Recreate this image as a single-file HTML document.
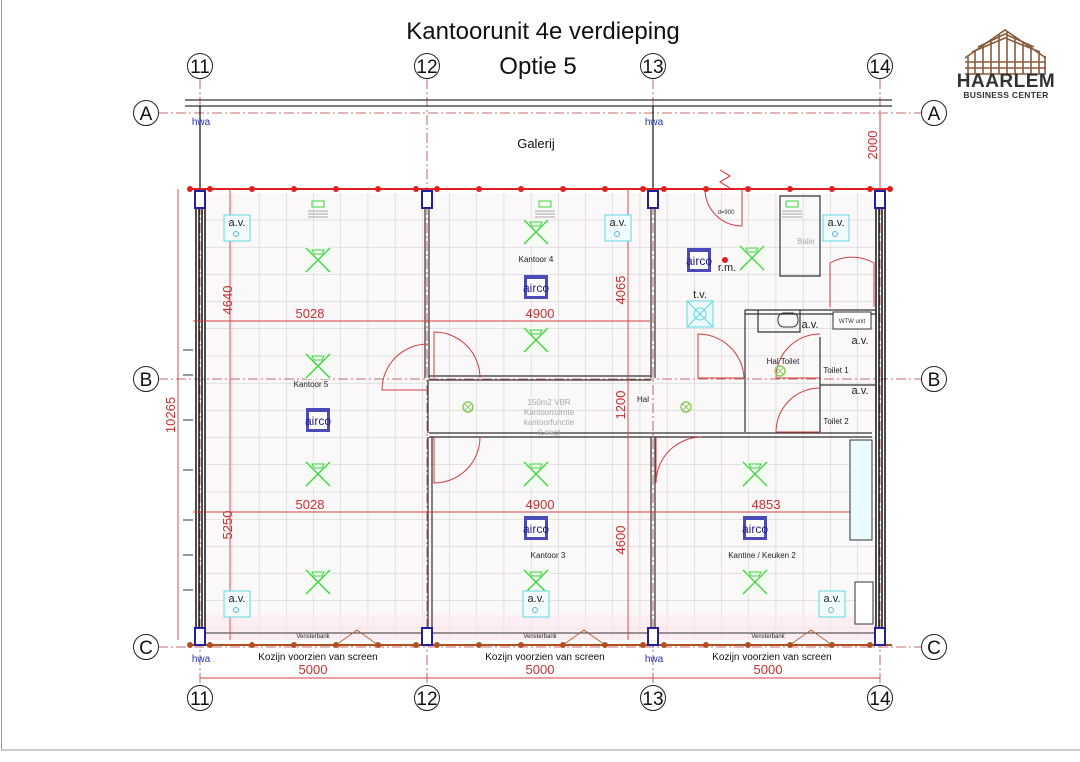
<!DOCTYPE html>
<html><head><meta charset="utf-8"><style>
html,body{margin:0;padding:0;background:#fff}
svg{display:block}
text{font-family:"Liberation Sans",sans-serif}
</style></head><body>
<svg width="1080" height="762" viewBox="0 0 1080 762" xmlns="http://www.w3.org/2000/svg">
<defs>
<pattern id="grid" x="205" y="193" width="27.2" height="27.2" patternUnits="userSpaceOnUse">
<path d="M27.2 0V27.2H0" fill="none" stroke="#c8c8c8" stroke-width="1"/>
</pattern>
<g id="lamp"><rect x="-13" y="-13" width="26" height="26" fill="#f3fbf3" stroke="none"/><path d="M-12 -12L12 12M12 -12L-12 12" stroke="#3ad43a" stroke-width="1.3"/><path d="M-6 -10h12l-2 4h-8z" fill="none" stroke="#3ad43a"/></g>
<g id="airco"><rect x="-12" y="-12" width="24" height="24" fill="#4a4ab8"/><rect x="-9" y="-8" width="18" height="17" fill="#fff"/><text x="0" y="5" font-size="12" text-anchor="middle" fill="#202080">airco</text></g>
<g id="av"><rect x="-13" y="-13" width="26" height="26" fill="#f2fbfd" stroke="#5fd8e0"/><text x="0" y="-2" font-size="11" text-anchor="middle" fill="#222">a.v.</text><circle cx="-1" cy="6" r="2.5" fill="none" stroke="#5fb0e0"/></g>
<g id="bub"><circle r="12.5" fill="#fff" stroke="#222" stroke-width="1"/></g>
<g id="dot"><circle r="3" fill="#e02020"/></g>
<g id="bdot"><circle r="3" fill="#b05020"/></g>
<g id="sign"><path d="M-6 -4h12v6h-12z" fill="none" stroke="#3ad43a"/><path d="M-10 6h20M-10 9h20M-10 12h20" stroke="#555" stroke-width="0.6"/></g>
<g id="gc"><circle r="5" fill="none" stroke="#8ccc60" stroke-width="1.5"/><path d="M-3 -3L3 3M3 -3L-3 3" stroke="#8ccc60"/></g>
</defs>

<path d="M1.5 0V750H1080" fill="none" stroke="#999"/>

<text x="543" y="39" font-size="24" text-anchor="middle" fill="#111">Kantoorunit 4e verdieping</text>
<text x="538" y="74" font-size="24" text-anchor="middle" fill="#111">Optie 5</text>

<g stroke="#8a5a3c" stroke-width="1.6" fill="none">
<path d="M965 58L1005 30L1046 58"/>
<path d="M968 55V74M975 50V74M983 44V74M991 39V74M999 34V74M1007 32V74M1015 36V74M1023 41V74M1031 46V74M1039 51V74M1045 56V74"/>
<path d="M965 62H1046M965 68H1046M965 74H1046M972 52L1005 38L1040 52M978 47L1005 34L1034 47"/>
</g>
<text x="1006" y="87" font-size="19" font-weight="bold" text-anchor="middle" fill="#333" letter-spacing="0.5">HAARLEM</text>
<text x="1006" y="98" font-size="8.5" font-weight="bold" text-anchor="middle" fill="#333" letter-spacing="0.3">BUSINESS CENTER</text>

<rect x="205" y="193" width="671" height="447" fill="#fbf8f9"/>
<rect x="205" y="193" width="671" height="447" fill="url(#grid)"/>
<rect x="205" y="615" width="671" height="25" fill="#fde8ee" opacity="0.6"/>

<g stroke="#b04040" stroke-width="0.8" stroke-dasharray="10 3 2 3" fill="none">
<path d="M158 113H922M158 379H922M158 647H922"/>
<path d="M200 79V685M427 79V685M653 79V685M880 79V685"/>
</g>

<path d="M185 100H892M185 106H892" stroke="#333" stroke-width="1.3"/>
<path d="M200 106V189M653 106V189" stroke="#111" stroke-width="1.2"/>
<text x="536" y="148" font-size="13" text-anchor="middle" fill="#111">Galerij</text>
<text x="201" y="125" font-size="10" text-anchor="middle" fill="#2030c0">hwa</text>
<text x="654" y="125" font-size="10" text-anchor="middle" fill="#2030c0">hwa</text>

<path d="M188 189H892" stroke="#e02020" stroke-width="2"/>
<g fill="none" stroke="#111" stroke-width="1.5">
<path d="M196 192V640M199 192V640M202 192V640M205 192V640"/>
<path d="M876 192V640M879 192V640M882 192V640M885 192V640"/>
</g>
<path d="M188 645H892" stroke="#b05020" stroke-width="2"/>
<path d="M205 633H876" stroke="#333" stroke-width="1"/>

<g fill="#fff" stroke="#2020a0" stroke-width="2">
<rect x="195" y="191" width="10" height="17"/><rect x="422" y="191" width="10" height="17"/><rect x="648" y="191" width="10" height="17"/><rect x="875" y="191" width="10" height="17"/>
<rect x="195" y="628" width="10" height="17"/><rect x="422" y="628" width="10" height="17"/><rect x="648" y="628" width="10" height="17"/><rect x="875" y="628" width="10" height="17"/>
</g>

<g>
<use href="#dot" x="190" y="189"/><use href="#dot" x="210" y="189"/><use href="#dot" x="252" y="189"/><use href="#dot" x="294" y="189"/><use href="#dot" x="336" y="189"/><use href="#dot" x="378" y="189"/><use href="#dot" x="416" y="189"/><use href="#dot" x="437" y="189"/><use href="#dot" x="479" y="189"/><use href="#dot" x="521" y="189"/><use href="#dot" x="563" y="189"/><use href="#dot" x="605" y="189"/><use href="#dot" x="643" y="189"/><use href="#dot" x="664" y="189"/><use href="#dot" x="706" y="189"/><use href="#dot" x="748" y="189"/><use href="#dot" x="790" y="189"/><use href="#dot" x="832" y="189"/><use href="#dot" x="870" y="189"/><use href="#dot" x="890" y="189"/>
</g>
<g>
<use href="#bdot" x="190" y="645"/><use href="#bdot" x="210" y="645"/><use href="#bdot" x="252" y="645"/><use href="#bdot" x="294" y="645"/><use href="#bdot" x="336" y="645"/><use href="#bdot" x="378" y="645"/><use href="#bdot" x="416" y="645"/><use href="#bdot" x="437" y="645"/><use href="#bdot" x="479" y="645"/><use href="#bdot" x="521" y="645"/><use href="#bdot" x="563" y="645"/><use href="#bdot" x="605" y="645"/><use href="#bdot" x="643" y="645"/><use href="#bdot" x="664" y="645"/><use href="#bdot" x="706" y="645"/><use href="#bdot" x="748" y="645"/><use href="#bdot" x="790" y="645"/><use href="#bdot" x="832" y="645"/><use href="#bdot" x="870" y="645"/>
</g>
<path d="M336 645L357 630L378 645M563 645L584 630L605 645M790 645L811 630L832 645" fill="none" stroke="#b05020" stroke-width="0.8"/>

<g fill="none" stroke="#333" stroke-width="1.2">
<path d="M425 208V378M429 208V378"/>
<path d="M651 208V378M655 208V378"/>
<path d="M429 376H651M429 380H651"/>
<path d="M429 433H872M429 437H872"/>
<path d="M428 437V628M432 437V628"/>
<path d="M651 437V628M655 437V628"/>
<path d="M428 380V433"/>
<path d="M745 310H876M745 310V432M820 337V432M820 385H876M745 314H876"/>
<path d="M780 196H820V276H780Z"/>
<path d="M758 310V332H800V310"/>
</g>

<g fill="none" stroke="#d04040" stroke-width="1">
<path d="M434 378V332A46 46 0 0 1 480 378"/>
<path d="M428 390H382A46 46 0 0 1 428 344"/>
<path d="M434 437V483A46 46 0 0 0 480 437"/>
<path d="M656 437V483A46 46 0 0 1 702 437"/>
<path d="M744 378H698V334A46 46 0 0 1 744 378"/>
<path d="M820 378H776A44 44 0 0 1 820 334"/>
<path d="M820 432H776A44 44 0 0 1 820 388"/>
<path d="M830 307V263A44 44 0 0 1 874 263V307"/>
<path d="M705 189A37 37 0 0 0 742 226V189"/>
</g>
<path d="M720 170L730 176L720 182L730 188" stroke="#e02020" fill="none"/>
<text x="726" y="214" font-size="6" text-anchor="middle" fill="#333">d=900</text>
<text x="806" y="244" font-size="8" text-anchor="middle" fill="#aaa">Balie</text>
<rect x="778" y="313" width="20" height="14" rx="6" fill="none" stroke="#333"/>
<rect x="833" y="312" width="38" height="17" fill="#fff" stroke="#333"/>
<text x="852" y="323" font-size="6" text-anchor="middle" fill="#333">WTW unit</text>

<g stroke="#d04040" stroke-width="0.9" fill="none">
<path d="M193 321H650M193 512H870"/>
<path d="M230 189V640M628 189V640M178 189V640M880 113V189"/>
<path d="M200 678H880"/>
</g>
<g fill="#c83030" font-size="13">
<text x="310" y="318" text-anchor="middle">5028</text>
<text x="540" y="318" text-anchor="middle">4900</text>
<text x="310" y="509" text-anchor="middle">5028</text>
<text x="540" y="509" text-anchor="middle">4900</text>
<text x="766" y="509" text-anchor="middle">4853</text>
<text x="313" y="674" text-anchor="middle">5000</text>
<text x="540" y="674" text-anchor="middle">5000</text>
<text x="768" y="674" text-anchor="middle">5000</text>
<text transform="translate(232,300) rotate(-90)" text-anchor="middle">4640</text>
<text transform="translate(232,525) rotate(-90)" text-anchor="middle">5250</text>
<text transform="translate(625,290) rotate(-90)" text-anchor="middle">4065</text>
<text transform="translate(625,405) rotate(-90)" text-anchor="middle">1200</text>
<text transform="translate(625,540) rotate(-90)" text-anchor="middle">4600</text>
<text transform="translate(175,415) rotate(-90)" text-anchor="middle">10265</text>
<text transform="translate(877,145) rotate(-90)" text-anchor="middle">2000</text>
</g>

<use href="#lamp" x="318" y="260"/><use href="#lamp" x="318" y="366"/><use href="#lamp" x="318" y="474"/><use href="#lamp" x="318" y="582"/>
<use href="#lamp" x="536" y="232"/><use href="#lamp" x="536" y="340"/><use href="#lamp" x="536" y="474"/><use href="#lamp" x="536" y="582"/>
<use href="#lamp" x="755" y="474"/><use href="#lamp" x="755" y="582"/><use href="#lamp" x="752" y="258"/>
<use href="#airco" x="318" y="420"/><use href="#airco" x="536" y="287"/><use href="#airco" x="536" y="528"/><use href="#airco" x="755" y="528"/><use href="#airco" x="699" y="260"/>
<use href="#av" x="237" y="228"/><use href="#av" x="618" y="228"/><use href="#av" x="836" y="228"/><use href="#av" x="237" y="604"/><use href="#av" x="536" y="604"/><use href="#av" x="832" y="604"/>
<use href="#sign" x="318" y="205"/><use href="#sign" x="545" y="205"/><use href="#sign" x="792" y="205"/>
<use href="#gc" x="468" y="407"/><use href="#gc" x="686" y="407"/><use href="#gc" x="780" y="371"/>
<rect x="687" y="301" width="26" height="26" fill="#eafafd" stroke="#5fd8e0"/>
<path d="M687 301L713 327M713 301L687 327" stroke="#5fd8e0"/><circle cx="700" cy="314" r="6" fill="none" stroke="#5fd8e0"/>
<circle cx="725" cy="260" r="3" fill="#e02020"/>

<g font-size="8" fill="#222" text-anchor="middle">
<text x="536" y="262">Kantoor 4</text>
<text x="311" y="387">Kantoor 5</text>
<text x="548" y="558">Kantoor 3</text>
<text x="762" y="558">Kantine / Keuken 2</text>
<text x="783" y="364">Hal Toilet</text>
<text x="836" y="373">Toilet 1</text>
<text x="836" y="424">Toilet 2</text>
<text x="643" y="402">Hal</text>
<text x="313" y="638" font-size="6">Vensterbank</text>
<text x="540" y="638" font-size="6">Vensterbank</text>
<text x="768" y="638" font-size="6">Vensterbank</text>
</g>
<g font-size="8" fill="#aaa" text-anchor="middle">
<text x="549" y="405">150m2 VBR</text><text x="549" y="415">Kantoorruimte</text><text x="549" y="425">kantoorfunctie</text><text x="549" y="435">(Leeg)</text>
</g>
<g font-size="11" fill="#222" text-anchor="middle">
<text x="727" y="271">r.m.</text><text x="700" y="298">t.v.</text>
<text x="810" y="328">a.v.</text><text x="860" y="344">a.v.</text><text x="860" y="394">a.v.</text>
</g>
<g font-size="10" fill="#111" text-anchor="middle">
<text x="318" y="660">Kozijn voorzien van screen</text>
<text x="545" y="660">Kozijn voorzien van screen</text>
<text x="772" y="660">Kozijn voorzien van screen</text>
</g>
<text x="201" y="662" font-size="10" text-anchor="middle" fill="#2030c0">hwa</text>
<text x="654" y="662" font-size="10" text-anchor="middle" fill="#2030c0">hwa</text>

<rect x="850" y="440" width="22" height="100" fill="#eafafd" stroke="#333"/>
<rect x="855" y="582" width="18" height="42" fill="#fff" stroke="#333"/>
<path d="M183 350H193M183 375H193M183 420H193M183 470H193M183 520H193M183 555H193M183 590H193" stroke="#333"/>

<g font-size="19" text-anchor="middle" fill="#111">
<use href="#bub" x="200" y="66"/><text x="200" y="73">11</text>
<use href="#bub" x="427" y="66"/><text x="427" y="73">12</text>
<use href="#bub" x="653" y="66"/><text x="653" y="73">13</text>
<use href="#bub" x="880" y="66"/><text x="880" y="73">14</text>
<use href="#bub" x="200" y="698"/><text x="200" y="705">11</text>
<use href="#bub" x="427" y="698"/><text x="427" y="705">12</text>
<use href="#bub" x="653" y="698"/><text x="653" y="705">13</text>
<use href="#bub" x="880" y="698"/><text x="880" y="705">14</text>
<use href="#bub" x="146" y="113"/><text x="146" y="120">A</text>
<use href="#bub" x="934" y="113"/><text x="934" y="120">A</text>
<use href="#bub" x="146" y="379"/><text x="146" y="386">B</text>
<use href="#bub" x="934" y="379"/><text x="934" y="386">B</text>
<use href="#bub" x="146" y="647"/><text x="146" y="654">C</text>
<use href="#bub" x="934" y="647"/><text x="934" y="654">C</text>
</g>
</svg>
</body></html>
